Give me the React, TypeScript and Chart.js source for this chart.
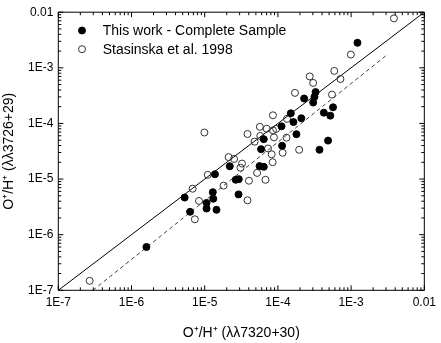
import React, { useEffect, useRef } from 'react';
import { Chart, registerables } from 'chart.js';

Chart.register(...registerables);

// This work - Complete Sample (filled circles)
const thisWorkX = [1.22e-3, 3.27e-4, 3.16e-4, 2.28e-4, 3.03e-4, 5.66e-4, 4.24e-4, 5.2e-4, 1.5e-4, 2.09e-4, 1.63e-4, 1.12e-4, 1.79e-4, 4.84e-4, 1.14e-4, 3.7e-4, 6.41e-5, 5.89e-5, 5.61e-5, 6.41e-5, 2.2e-5, 2.65e-5, 2.92e-5, 2.9e-5, 1.38e-5, 5.32e-6, 1.29e-5, 1.31e-5, 1.06e-5, 1.06e-5, 1.45e-5, 6.31e-6, 1.6e-6];
const thisWorkY = [2.82e-3, 3.66e-4, 3.01e-4, 2.81e-4, 2.38e-4, 1.95e-4, 1.56e-4, 1.38e-4, 1.52e-4, 1.24e-4, 1.06e-4, 8.87e-5, 6.41e-5, 4.91e-5, 3.97e-5, 3.36e-5, 5.21e-5, 3.45e-5, 1.71e-5, 1.66e-5, 1.7e-5, 9.7e-6, 9.96e-6, 5.3e-6, 1.22e-5, 4.65e-6, 5.81e-6, 4.43e-6, 3.72e-6, 2.95e-6, 2.8e-6, 2.58e-6, 6.01e-7];

// Stasinska et al. 1998 (open circles)
const stasinskaX = [3.84e-3, 9.91e-4, 5.89e-4, 7.15e-4, 2.72e-4, 3.03e-4, 1.71e-4, 5.48e-4, 8.55e-5, 1.33e-4, 5.66e-5, 7.03e-5, 8.55e-5, 9.46e-5, 3.84e-5, 9.91e-6, 4.8e-5, 5.74e-5, 8.83e-5, 1.31e-4, 7.33e-5, 8.22e-5, 1.16e-4, 1.95e-4, 8.47e-5, 5.2e-5, 6.76e-5, 4.02e-5, 3.84e-5, 2.12e-5, 2.52e-5, 3.23e-5, 3.08e-5, 1.81e-5, 1.1e-5, 6.83e-6, 8.36e-6, 7.33e-6, 2.68e-7];
const stasinskaY = [7.74e-3, 1.73e-3, 8.81e-4, 6.3e-4, 7.0e-4, 5.35e-4, 3.54e-4, 3.3e-4, 1.4e-4, 1.21e-4, 8.69e-5, 8.02e-5, 7.53e-5, 7.98e-5, 6.46e-5, 6.87e-5, 4.71e-5, 5.96e-5, 5.61e-5, 5.55e-5, 3.55e-5, 2.79e-5, 2.97e-5, 3.36e-5, 2.01e-5, 1.29e-5, 9.7e-6, 9.33e-6, 4.15e-6, 2.48e-5, 2.3e-5, 1.9e-5, 1.6e-5, 7.62e-6, 1.19e-5, 6.7e-6, 4.04e-6, 1.89e-6, 1.48e-7];

// One-to-one line and dashed fit line
const unityX = [1e-7, 1e-2];
const unityY = [1e-7, 1e-2];
const fitX = [2.97e-7, 3.03e-3];
const fitY = [1e-7, 1.68e-3];

const tickValues = [1e-7, 1e-6, 1e-5, 1e-4, 1e-3, 1e-2];
const tickLabels = ['1E-7', '1E-6', '1E-5', '1E-4', '1E-3', '0.01'];
const legendLabels = ['This work - Complete Sample', 'Stasinska et al. 1998'];
const xTitle = 'O\u207A/H\u207A (\u03BB\u03BB7320+30)';
const yTitle = 'O\u207A/H\u207A (\u03BB\u03BB3726+29)';

const FONT = '"Liberation Sans", Arial, Helvetica, sans-serif';

const toPts = (xs: number[], ys: number[]) => xs.map((x, i) => ({ x, y: ys[i] }));

const decorPlugin = {
  id: 'decor',
  afterDatasetsDraw(chart: any) {
    const { ctx, chartArea, scales } = chart;
    const { left, right, top, bottom } = chartArea;
    const xs = scales.x;
    const ys = scales.y;
    ctx.save();
    ctx.strokeStyle = '#000';
    ctx.lineWidth = 1;
    ctx.beginPath();
    ctx.rect(left, top, right - left, bottom - top);
    ctx.stroke();
    ctx.beginPath();
    for (let e = -7; e <= -2; e++) {
      for (let m = 1; m <= 9; m++) {
        const v = m * Math.pow(10, e);
        if (v > 1.0001e-2) break;
        const len = m === 1 ? 5 : 3;
        const px = xs.getPixelForValue(v);
        const py = ys.getPixelForValue(v);
        ctx.moveTo(px, bottom);
        ctx.lineTo(px, bottom - len);
        ctx.moveTo(px, top);
        ctx.lineTo(px, top + len);
        ctx.moveTo(left, py);
        ctx.lineTo(left + len, py);
        ctx.moveTo(right, py);
        ctx.lineTo(right - len, py);
      }
    }
    ctx.stroke();

    // legend
    const items = [chart.data.datasets[0], chart.data.datasets[1]];
    ctx.font = '14px ' + FONT;
    ctx.textBaseline = 'middle';
    ctx.textAlign = 'left';
    items.forEach((ds: any, i: number) => {
      const cy = top + 18.3 + i * 18.7;
      const cx = left + 23.7;
      ctx.beginPath();
      ctx.arc(cx, cy, ds.pointRadius, 0, Math.PI * 2);
      ctx.fillStyle = ds.pointBackgroundColor;
      ctx.fill();
      ctx.lineWidth = ds.pointBorderWidth;
      ctx.strokeStyle = ds.pointBorderColor;
      ctx.stroke();
      ctx.fillStyle = '#000';
      ctx.fillText(legendLabels[i], left + 44.4, cy + 0.5);
    });
    ctx.restore();
  },
};

export default function App() {
  const ref = useRef<HTMLCanvasElement | null>(null);
  useEffect(() => {
    const canvas = ref.current;
    if (!canvas) return;
    const axisCommon = (title: string, isX: boolean) => ({
      type: 'logarithmic' as const,
      min: 1e-7,
      max: 1e-2,
      afterBuildTicks: (scale: any) => {
        scale.ticks = tickValues.map((v) => ({ value: v }));
      },
      afterFit: (scale: any) => {
        if (isX) scale.height = 52.7;
        else scale.width = 58.3;
      },
      grid: { display: false, drawTicks: false },
      border: { display: false },
      ticks: {
        autoSkip: false,
        maxRotation: 0,
        padding: 5,
        color: '#000',
        font: { size: 12, family: FONT },
        callback: (_v: any, i: number) => tickLabels[i],
      },
      title: {
        display: true,
        text: title,
        color: '#000',
        font: { size: 14, family: FONT },
        padding: isX ? { top: 0, bottom: 1.6 } : { top: 1.2, bottom: 0 },
      },
    });
    const chart = new Chart(canvas, {
      type: 'scatter',
      data: {
        datasets: [
          {
            label: legendLabels[0],
            data: toPts(thisWorkX, thisWorkY),
            pointRadius: 3.5,
            pointBackgroundColor: '#000',
            pointBorderColor: '#000',
            pointBorderWidth: 1,
            order: 1,
          },
          {
            label: legendLabels[1],
            data: toPts(stasinskaX, stasinskaY),
            pointRadius: 3.5,
            pointBackgroundColor: 'rgba(255,255,255,0)',
            pointBorderColor: '#333',
            pointBorderWidth: 1,
            order: 2,
          },
          {
            label: 'unity',
            data: toPts(unityX, unityY),
            showLine: true,
            pointRadius: 0,
            borderColor: '#000',
            borderWidth: 1,
            order: 3,
          },
          {
            label: 'fit',
            data: toPts(fitX, fitY),
            showLine: true,
            pointRadius: 0,
            borderColor: '#444',
            borderWidth: 1,
            borderDash: [4, 3],
            order: 4,
          },
        ],
      },
      options: {
        animation: false,
        responsive: false,
        devicePixelRatio: 1,
        layout: { padding: { top: 6, right: 12.7, left: 0, bottom: 0 } },
        plugins: { legend: { display: false }, tooltip: { enabled: false } },
        scales: {
          x: axisCommon(xTitle, true),
          y: axisCommon(yTitle, false),
        },
      } as any,
      plugins: [decorPlugin],
    });
    return () => chart.destroy();
  }, []);
  return (
    <div style={{ position: 'fixed', left: 0, top: 0, width: 441, height: 343, background: '#fff' }}>
      <canvas ref={ref} width={441} height={343} style={{ display: 'block', width: 441, height: 343 }} />
    </div>
  );
}
